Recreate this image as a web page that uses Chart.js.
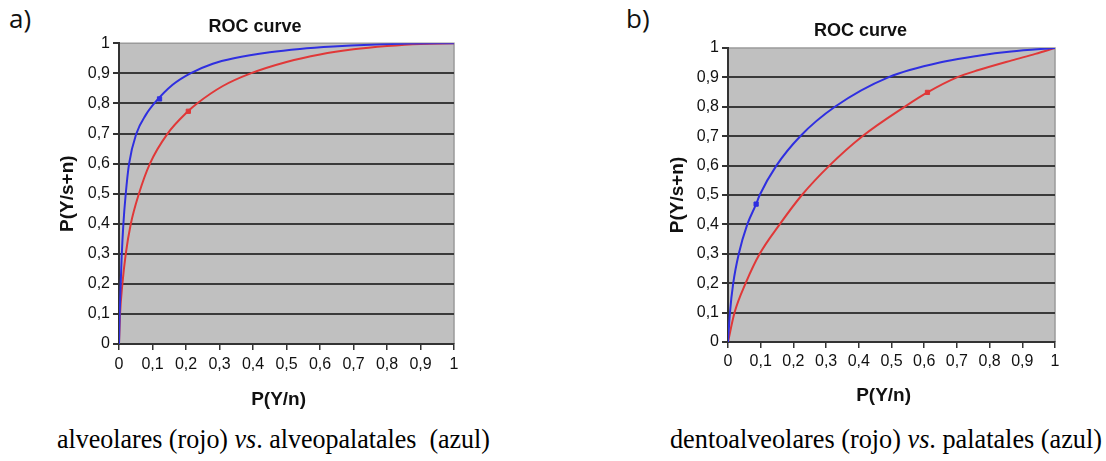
<!DOCTYPE html>
<html><head><meta charset="utf-8">
<script src="https://cdn.jsdelivr.net/npm/chart.js@4.4.0/dist/chart.umd.min.js"></script>
<style>
html,body{margin:0;padding:0;background:#fff;width:1106px;height:461px;overflow:hidden;position:relative}
canvas{position:absolute}
.lab{position:absolute;font-family:"Open Sans",sans-serif;font-size:26px;color:#111;line-height:1}
.cap{position:absolute;font-family:"Liberation Serif","Times New Roman",serif;font-size:28px;color:#000;white-space:pre;transform-origin:0 0;line-height:1;display:inline-block}
</style></head><body>
<div class="lab" style="left:9px;top:5px">a)</div>
<div class="lab" style="left:626px;top:5px">b)</div>
<canvas id="cA" width="424" height="420" style="left:56px;top:0"></canvas>
<canvas id="cB" width="418" height="420" style="left:666px;top:0"></canvas>
<span class="cap" id="capA" style="left:57px;top:425px">alveolares (rojo) <i>vs</i>. alveopalatales  (azul)</span>
<span class="cap" id="capB" style="left:670px;top:425px">dentoalveolares (rojo) <i>vs</i>. palatales (azul)</span>
<script>
// ---- data ----
const titleText = "ROC curve";
const xAxisTitle = "P(Y/n)";
const yAxisTitle = "P(Y/s+n)";
const tickValues = [0,0.1,0.2,0.3,0.4,0.5,0.6,0.7,0.8,0.9,1];
const tickLabels = ["0","0,1","0,2","0,3","0,4","0,5","0,6","0,7","0,8","0,9","1"];

// a) alveolares (red) vs alveopalatales (blue)
const aBlueX = [0,0.002,0.005,0.008,0.013,0.02,0.03,0.052,0.08,0.109,0.16,0.213,0.28,0.343,0.45,0.54,0.64,0.75,0.87,1];
const aBlueY = [0,0.097,0.198,0.29,0.398,0.498,0.599,0.70,0.762,0.805,0.862,0.90,0.932,0.95,0.97,0.981,0.989,0.995,0.999,1];
const aRedX  = [0,0.003,0.01,0.02,0.035,0.059,0.092,0.144,0.207,0.233,0.31,0.393,0.5,0.6,0.7,0.8,0.9,1];
const aRedY  = [0,0.097,0.198,0.298,0.398,0.498,0.599,0.698,0.775,0.8,0.858,0.9,0.938,0.963,0.98,0.991,0.998,1];
const aBluePoint = [0.121, 0.815];
const aRedPoint  = [0.207, 0.774];

// b) dentoalveolares (red) vs palatales (blue)
const bBlueX = [0,0.006,0.016,0.033,0.059,0.086,0.097,0.148,0.221,0.327,0.49,0.666,0.766,0.866,1];
const bBlueY = [0,0.1,0.2,0.3,0.4,0.469,0.5,0.6,0.7,0.8,0.9,0.955,0.974,0.988,1];
const bRedX  = [0,0.02,0.054,0.097,0.158,0.226,0.31,0.411,0.54,0.61,0.70,0.766,0.868,0.94,1];
const bRedY  = [0,0.1,0.2,0.3,0.4,0.5,0.6,0.7,0.8,0.849,0.9,0.925,0.958,0.98,1];
const bBluePoint = [0.086, 0.469];
const bRedPoint  = [0.61, 0.849];

const BLUE = '#2f2fe0';
const RED = '#e03838';

function pairs(xs, ys){ return xs.map((x,i)=>({x:x,y:ys[i]})); }
function fmt(v){ const i = tickValues.findIndex(t=>Math.abs(t-v)<1e-6); return i>=0 ? tickLabels[i] : ''; }

const plotBg = {
  id:'plotBg',
  beforeDraw(chart){
    const {ctx, chartArea:a} = chart;
    ctx.save();
    ctx.fillStyle = '#c0c0c0';
    ctx.fillRect(a.left, a.top, a.right-a.left, a.bottom-a.top);
    ctx.strokeStyle = '#9a9a9a';
    ctx.lineWidth = 1.5;
    ctx.beginPath();
    ctx.moveTo(a.left, a.top); ctx.lineTo(a.right, a.top); ctx.lineTo(a.right, a.bottom);
    ctx.stroke();
    ctx.restore();
  }
};

function makeChart(id, cfg){
  const font = {family:'"Liberation Sans", Arial, sans-serif'};
  return new Chart(document.getElementById(id), {
    type:'scatter',
    data:{datasets:[
      {data:pairs(cfg.blueX,cfg.blueY), showLine:true, borderColor:BLUE, borderWidth:2, pointRadius:0, cubicInterpolationMode:'monotone', fill:false, order:2},
      {data:pairs(cfg.redX,cfg.redY), showLine:true, borderColor:RED, borderWidth:2, pointRadius:0, cubicInterpolationMode:'monotone', fill:false, order:3},
      {data:[{x:cfg.bluePt[0],y:cfg.bluePt[1]}], pointRadius:3, pointStyle:'rect', backgroundColor:BLUE, borderColor:BLUE, order:0},
      {data:[{x:cfg.redPt[0],y:cfg.redPt[1]}], pointRadius:3, pointStyle:'rect', backgroundColor:RED, borderColor:RED, order:1}
    ]},
    options:{
      responsive:false, animation:false, devicePixelRatio:1,
      layout:{padding:{left:0,right:cfg.padRight,top:0,bottom:0}},
      plugins:{
        legend:{display:false}, tooltip:{enabled:false},
        title:{display:true, text:titleText, color:'#111', font:{...font, size:18, weight:'bold', lineHeight:1.2}, padding:{top:cfg.titleTop,bottom:cfg.titleBottom}}
      },
      scales:{
        x:{type:'linear', min:0, max:1,
          afterBuildTicks(s){ s.ticks = tickValues.map(v=>({value:v})); },
          afterFit(s){ s.height = cfg.xHeight; },
          ticks:{callback:fmt, autoSkip:false, maxRotation:0, color:'#111', font:{...font,size:16,lineHeight:1.2}, padding:cfg.xTickPad},
          grid:{drawOnChartArea:false, drawTicks:true, tickLength:6, tickColor:'#333', lineWidth:1.5},
          border:{color:'#333', width:2},
          title:{display:true, text:xAxisTitle + '   ', color:'#111', font:{...font,size:19,weight:'bold',lineHeight:1.2}, padding:{top:0,bottom:cfg.xTitleBottom}}
        },
        y:{type:'linear', min:0, max:1,
          afterBuildTicks(s){ s.ticks = tickValues.map(v=>({value:v})); },
          afterFit(s){ s.width = cfg.yWidth; },
          ticks:{callback:fmt, autoSkip:false, color:'#111', font:{...font,size:16,lineHeight:1.2}, padding:3},
          grid:{color:(c)=> (c.tick && c.tick.value===1) ? 'rgba(0,0,0,0)' : '#3a3a3a', lineWidth:2, tickLength:6, tickColor:'#333'},
          border:{color:'#333', width:2},
          title:{display:true, text:yAxisTitle, color:'#111', font:{...font,size:19,weight:'bold',lineHeight:1.2}, padding:{top:0,bottom:0}}
        }
      }
    },
    plugins:[plotBg]
  });
}

makeChart('cA', {blueX:aBlueX, blueY:aBlueY, redX:aRedX, redY:aRedY, bluePt:aBluePoint, redPt:aRedPoint,
  padRight:26, titleTop:16.2, titleBottom:5.5, xHeight:76, yWidth:63, xTickPad:5.1, xTitleBottom:8.6});
makeChart('cB', {blueX:bBlueX, blueY:bBlueY, redX:bRedX, redY:bRedY, bluePt:bBluePoint, redPt:bRedPoint,
  padRight:29, titleTop:20.2, titleBottom:6.2, xHeight:78, yWidth:62, xTickPad:4.4, xTitleBottom:12.6});

function fitCap(id, width){
  const el = document.getElementById(id);
  const w = el.getBoundingClientRect().width;
  el.style.transform = 'scaleX(' + (width / w) + ')';
}
fitCap('capA', 433);
fitCap('capB', 432);
</script>
</body></html>
